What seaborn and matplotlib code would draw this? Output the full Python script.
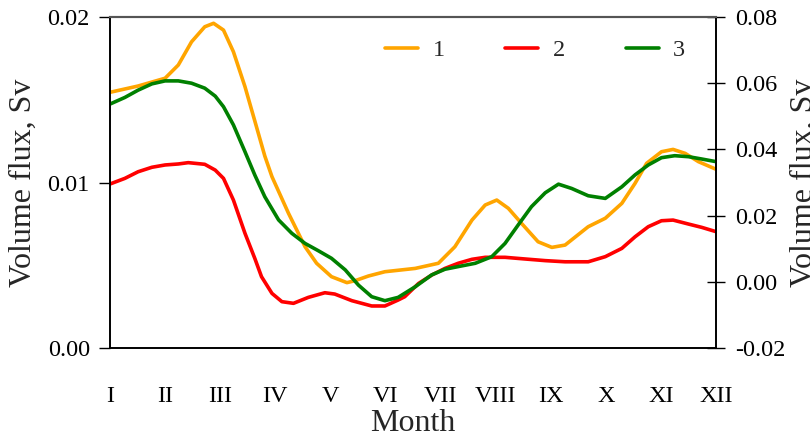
import pandas as pd
import matplotlib
matplotlib.use('Agg')
import matplotlib.pyplot as plt
import seaborn as sns

sns.set_style('white')
plt.rcParams['font.family'] = ['Liberation Serif', 'DejaVu Serif']
plt.rcParams['mathtext.fontset'] = 'stix'

# month positions (1 = I ... 12 = XII) and volume flux, Sv
month_1 = [1.0, 1.51, 2.0, 2.24, 2.48, 2.72, 2.88, 3.06, 3.24, 3.45, 3.63, 3.81,
           3.94, 4.24, 4.54, 4.75, 5.02, 5.30, 5.45, 5.69, 5.99, 6.54, 6.96, 7.26,
           7.57, 7.81, 8.02, 8.23, 8.47, 8.77, 9.02, 9.26, 9.68, 9.99, 10.29,
           10.53, 10.74, 11.01, 11.22, 11.44, 11.68, 12.0]
flux_1 = [0.01545, 0.01583, 0.01630, 0.0171, 0.0185, 0.01941, 0.01962, 0.01921,
          0.0179, 0.01579, 0.0137, 0.0116, 0.01035, 0.00814, 0.00612, 0.00512,
          0.00431, 0.00395, 0.00407, 0.00435, 0.00461, 0.00481, 0.00512, 0.00612,
          0.00773, 0.00864, 0.00894, 0.00844, 0.00753, 0.00642, 0.00608, 0.00622,
          0.00733, 0.00784, 0.00874, 0.00995, 0.01116, 0.01186, 0.01200, 0.01176,
          0.01126, 0.01080]

month_2 = [1.0, 1.27, 1.51, 1.76, 2.0, 2.24, 2.42, 2.72, 2.91, 3.06, 3.24, 3.45,
           3.63, 3.75, 3.94, 4.12, 4.33, 4.60, 4.90, 5.08, 5.39, 5.75, 5.99, 6.23,
           6.35, 6.60, 6.84, 7.08, 7.32, 7.57, 7.81, 8.17, 8.53, 8.90, 9.26, 9.68,
           9.99, 10.29, 10.53, 10.77, 11.01, 11.22, 11.50, 11.74, 12.0]
flux_2 = [0.00991, 0.01025, 0.01065, 0.01092, 0.01106, 0.01112, 0.01120, 0.01110,
          0.01075, 0.01025, 0.00894, 0.00693, 0.0054, 0.00431, 0.00330, 0.0028,
          0.0027, 0.00306, 0.00334, 0.00326, 0.00286, 0.00254, 0.00254, 0.0029,
          0.0031, 0.0039, 0.00441, 0.00481, 0.00512, 0.00536, 0.00548, 0.00548,
          0.00538, 0.00528, 0.00521, 0.00521, 0.00552, 0.00602, 0.00672, 0.00733,
          0.00769, 0.00773, 0.00749, 0.00729, 0.00703]

# series 3 is read on the right axis
month_3 = [1.0, 1.27, 1.51, 1.76, 2.0, 2.24, 2.48, 2.72, 2.91, 3.06, 3.24, 3.45,
           3.63, 3.81, 4.06, 4.30, 4.54, 4.78, 5.02, 5.27, 5.51, 5.75, 5.99, 6.23,
           6.54, 6.84, 7.08, 7.32, 7.63, 7.93, 8.17, 8.41, 8.65, 8.90, 9.14, 9.38,
           9.68, 9.99, 10.29, 10.53, 10.77, 11.01, 11.25, 11.50, 11.74, 12.0]
flux_3 = [0.0537, 0.0557, 0.0579, 0.0598, 0.0607, 0.0607, 0.0600, 0.0585, 0.0561,
          0.0529, 0.0474, 0.0393, 0.0322, 0.0257, 0.0187, 0.01465, 0.0116, 0.0094,
          0.0071, 0.0036, -0.0010, -0.0045, -0.0057, -0.0047, -0.0015, 0.0021,
          0.0038, 0.0046, 0.0056, 0.0076, 0.0116, 0.0172, 0.0227, 0.0269, 0.0295,
          0.0282, 0.0260, 0.0252, 0.0287, 0.0323, 0.0353, 0.0375, 0.0381, 0.0378,
          0.0371, 0.0363]

month_labels = ['I', 'II', 'III', 'IV', 'V', 'VI', 'VII', 'VIII', 'IX', 'X', 'XI', 'XII']

df1 = pd.DataFrame({'month': month_1, 'flux': flux_1})
df2 = pd.DataFrame({'month': month_2, 'flux': flux_2})
df3 = pd.DataFrame({'month': month_3, 'flux': flux_3})

fig = plt.figure(figsize=(8.1, 4.36), dpi=100)
ax1 = fig.add_axes([0.1358, 0.2018, 0.7482, 0.7592])
ax2 = ax1.twinx()

sns.lineplot(data=df1, x='month', y='flux', ax=ax1, color='#FFA500', lw=2.6, label='1')
sns.lineplot(data=df2, x='month', y='flux', ax=ax1, color='#FF0000', lw=2.6, label='2')
sns.lineplot(data=df3, x='month', y='flux', ax=ax2, color='#008000', lw=2.6, label='3')

ax1.set_xlim(1, 12)
ax1.set_ylim(0, 0.02)
ax2.set_ylim(-0.02, 0.08)
ax1.set_xticks(range(1, 13))
ax1.set_xticklabels(month_labels)
ax1.set_yticks([0, 0.01, 0.02])
ax1.set_yticklabels(['0.00', '0.01', '0.02'])
ax2.set_yticks([-0.02, 0, 0.02, 0.04, 0.06, 0.08])
ax2.set_yticklabels(['-0.02', '0.00', '0.02', '0.04', '0.06', '0.08'])

ax1.tick_params(axis='x', direction='inout', length=13, width=1, pad=21,
                labelsize=17.5, colors='black')
ax1.tick_params(axis='y', direction='out', length=8, width=1, pad=6.5,
                labelsize=17.5, colors='black')
ax2.tick_params(axis='y', direction='inout', length=13, width=1, pad=7,
                labelsize=17.5, colors='black')

ax1.set_xlabel('Month', fontsize=23, labelpad=1)
ax1.set_ylabel('Volume flux, Sv', fontsize=23, labelpad=7)
ax2.set_ylabel('Volume flux, Sv', fontsize=23, labelpad=3, rotation=90)

for ax in (ax1, ax2):
    for side in ('left', 'right', 'bottom'):
        ax.spines[side].set_color('black')
        ax.spines[side].set_linewidth(1.2)
    ax.spines['top'].set_color('#555555')
    ax.spines['top'].set_linewidth(1.5)

h1, l1 = ax1.get_legend_handles_labels()
h2, l2 = ax2.get_legend_handles_labels()
if ax2.get_legend() is not None:
    ax2.get_legend().remove()
ax1.legend(h1 + h2, l1 + l2, ncol=3, frameon=False, fontsize=17.5,
           loc='center left', bbox_to_anchor=(0.454, 0.90),
           borderaxespad=0, borderpad=0, handlelength=1.35,
           handletextpad=0.6, columnspacing=2.5)

fig.savefig('out.png', dpi=100)
plt.close(fig)
